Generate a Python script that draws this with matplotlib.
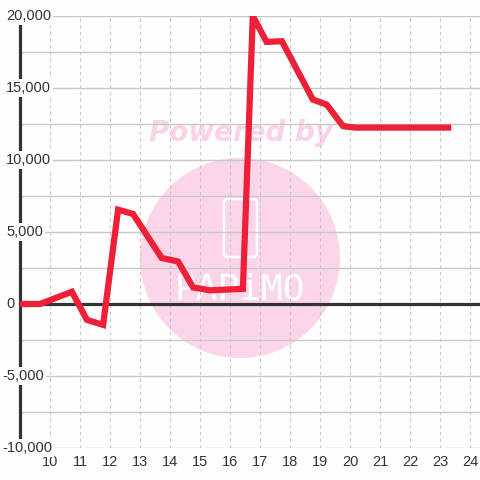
import matplotlib
matplotlib.use("Agg")
import matplotlib.pyplot as plt
import matplotlib.transforms as mtransforms
from matplotlib.patches import Circle, FancyBboxPatch

# Data
x_vals = [9.0, 9.67, 10.73, 11.23, 11.77, 12.27, 12.77, 13.72, 14.27, 14.77,
          15.33, 16.43, 16.76, 17.22, 17.73, 18.76, 19.22, 19.77, 20.17, 23.27]
y_vals = [0, 0, 850, -1100, -1450, 6550, 6250, 3200, 2950, 1150,
          950, 1050, 20000, 18200, 18250, 14200, 13850, 12350, 12250, 12250]
x_ticks = [10, 11, 12, 13, 14, 15, 16, 17, 18, 19, 20, 21, 22, 23, 24]
y_ticks = [-10000, -5000, 0, 5000, 10000, 15000, 20000]
y_labels = ["-10,000", "-5,000", "0", "5,000", "10,000", "15,000", "20,000"]
y_grid = [-10000, -7500, -5000, -2500, 0, 2500, 5000, 7500, 10000, 12500, 15000, 17500, 20000]

plt.rcParams['font.family'] = ['Liberation Sans', 'DejaVu Sans']

W = H = 480
BG = '#fdfefd'
fig = plt.figure(figsize=(4.8, 4.8), dpi=100)
fig.patch.set_facecolor(BG)
ax = fig.add_axes([20 / W, 1 - 448 / H, 460 / W, 432 / H])
ax.set_facecolor('none')
ax.set_xlim(9, 24.333)
ax.set_ylim(-10000, 20000)

# watermark (below grid)
ft = fig.transFigure
ax.add_patch(Circle((240 / W, 1 - 258 / H), 100 / W, transform=ft,
                    facecolor='#fbd6ea', edgecolor='none', zorder=0.1, clip_on=False))
ax.text(241 / W, 1 - 133 / H, "Powered by", transform=ft, ha='center', va='center',
        fontsize=20, fontweight='bold', fontstyle='italic', color='#fbd3e8',
        family='DejaVu Sans', zorder=0.1)
ax.add_patch(FancyBboxPatch((224 / W, 1 - 257 / H), 33 / W, 58 / H,
                            boxstyle="round,pad=0,rounding_size=0.008",
                            transform=ft, facecolor='none', clip_on=False,
                            edgecolor='white', linewidth=1.8, zorder=0.2))
ax.text(240 / W, 1 - 290 / H, "PAPiMO", transform=ft, ha='center', va='center',
        fontsize=26, color='white', family='DejaVu Sans Mono', zorder=0.2)

# grid
for g in y_grid:
    ax.axhline(g, color='#c8c8c8', linewidth=1, zorder=1)
for t in x_ticks:
    ax.axvline(t, color='#c8c8c8', linewidth=0.8, linestyle=(0, (3, 3)), zorder=1)

ax.axhline(0, color='#333333', linewidth=2.3, zorder=2)

ax.plot(x_vals, y_vals, color='#ee2038', linewidth=4.5, zorder=3,
        solid_joinstyle='miter')

for s in ['top', 'right', 'bottom']:
    ax.spines[s].set_visible(False)
ax.spines['left'].set_color('#333333')
ax.spines['left'].set_linewidth(2.3)
ax.spines['left'].set_zorder(1.5)

ax.set_xticks(x_ticks)
ax.set_xticklabels([str(t) for t in x_ticks])
ax.tick_params(axis='x', length=0, pad=5, labelsize=10.5, labelcolor='#333333')
ax.set_yticks([])

ytrans = mtransforms.blended_transform_factory(ft, ax.transData)
for v, lab in zip(y_ticks, y_labels):
    xp = 2 if lab.startswith('-') else 6
    ax.text(xp / W, v, lab, transform=ytrans,
            ha='left', va='center', fontsize=10.5, color='#333333', zorder=4,
            bbox=dict(facecolor=BG, edgecolor='none', pad=1.5))

fig.savefig('out.png', dpi=100, facecolor=fig.get_facecolor())
